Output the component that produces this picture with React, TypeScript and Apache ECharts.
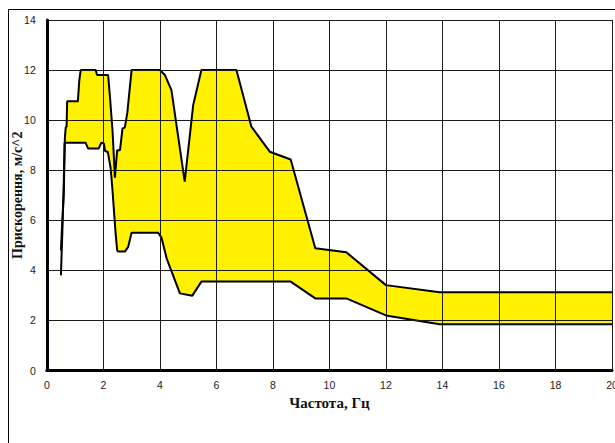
import React, { useEffect, useRef } from "react";
import * as echarts from "echarts";

const xTicks = [0, 2, 4, 6, 8, 10, 12, 14, 16, 18, 20];
const yTicks = [0, 2, 4, 6, 8, 10, 12, 14];

const upperCurve: [number, number][] = [
  [0.5, 4.8], [0.55, 6.0], [0.6, 7.0], [0.64, 9.3], [0.67, 9.7], [0.7, 9.75], [0.72, 10.75],
  [1.1, 10.75], [1.15, 11.6], [1.2, 12], [1.73, 12], [1.78, 11.8], [2.17, 11.8], [2.23, 11],
  [2.33, 9.5], [2.41, 7.7], [2.49, 8.8], [2.59, 8.8], [2.68, 9.67], [2.76, 9.7], [2.85, 10.3],
  [3.0, 12], [4.0, 12], [4.18, 11.8], [4.41, 11.2], [4.88, 7.54], [5.18, 10.6], [5.47, 12],
  [6.71, 12], [7.24, 9.74], [7.89, 8.74], [8.63, 8.43], [9.5, 4.88], [10.6, 4.72], [12, 3.41],
  [13.9, 3.13], [20, 3.13],
];

const lowerCurve: [number, number][] = [
  [0.5, 3.8], [0.55, 5.5], [0.6, 7.5], [0.63, 9.1], [1.37, 9.1], [1.46, 8.87], [1.84, 8.87],
  [1.93, 9.1], [2.02, 9.07], [2.06, 8.77], [2.16, 8.73], [2.26, 8.07], [2.32, 7.27], [2.43, 5.54],
  [2.49, 4.8], [2.53, 4.75], [2.76, 4.75], [2.88, 4.94], [3.0, 5.5], [3.94, 5.5], [4.06, 5.3],
  [4.24, 4.48], [4.71, 3.08], [5.15, 2.99], [5.47, 3.55], [8.63, 3.55], [9.5, 2.88], [10.6, 2.88],
  [12, 2.2], [13.9, 1.85], [20, 1.85],
];

const xTitle = "Частота, Гц";
const yTitle = "Прискорення, м/с^2";

export default function App() {
  const ref = useRef<HTMLDivElement>(null);
  useEffect(() => {
    if (!ref.current) return;
    const chart = echarts.init(ref.current, null, { renderer: "svg" });
    const labelStyle = {
      fontFamily: "Liberation Sans",
      fontSize: 10.5,
      color: "#222",
    };
    const titleStyle = {
      fontFamily: "Liberation Serif",
      fontWeight: "bold" as const,
      fontSize: 15,
      color: "#111",
    };
    chart.setOption({
      animation: false,
      backgroundColor: "#fff",
      grid: {
        left: 46.8,
        right: 3,
        top: 20,
        bottom: 72.5,
        containLabel: false,
        outerBoundsMode: "none",
      },
      graphic: [
        {
          type: "rect",
          shape: { x: 8.5, y: 9.5, width: 800, height: 600 },
          style: { fill: "none", stroke: "#000", lineWidth: 1 },
          silent: true,
        },
      ],
      xAxis: {
        type: "value",
        min: xTicks[0],
        max: xTicks[xTicks.length - 1],
        interval: 2,
        z: 5,
        name: xTitle,
        nameLocation: "middle",
        nameGap: 25,
        nameMoveOverlap: false,
        nameTextStyle: titleStyle,
        axisLine: { show: true, onZero: false, lineStyle: { color: "#000", width: 3 } },
        axisTick: { show: false },
        axisLabel: { ...labelStyle, margin: 9 },
        splitLine: { show: true, lineStyle: { color: "#1a1a1a", width: 1 } },
      },
      yAxis: {
        type: "value",
        min: yTicks[0],
        max: yTicks[yTicks.length - 1],
        interval: 2,
        z: 5,
        name: yTitle,
        nameLocation: "middle",
        nameGap: 22,
        nameMoveOverlap: false,
        nameRotate: 90,
        nameTextStyle: { ...titleStyle, fontSize: 14 },
        axisLine: { show: true, onZero: false, lineStyle: { color: "#000", width: 3 } },
        axisTick: { show: false },
        axisLabel: { ...labelStyle, margin: 11 },
        splitLine: { show: true, lineStyle: { color: "#1a1a1a", width: 1 } },
      },
      series: [
        {
          type: "line",
          data: upperCurve,
          showSymbol: false,
          z: 1,
          lineStyle: { color: "#000", width: 2 },
          areaStyle: { color: "#FFF100", opacity: 1, origin: "start" },
        },
        {
          type: "line",
          data: lowerCurve,
          showSymbol: false,
          z: 1,
          lineStyle: { color: "#000", width: 2 },
          areaStyle: { color: "#ffffff", opacity: 1, origin: "start" },
        },
      ],
    });
    return () => chart.dispose();
  }, []);
  return (
    <div
      ref={ref}
      style={{ position: "absolute", left: 0, top: 0, width: 615, height: 443 }}
    />
  );
}
